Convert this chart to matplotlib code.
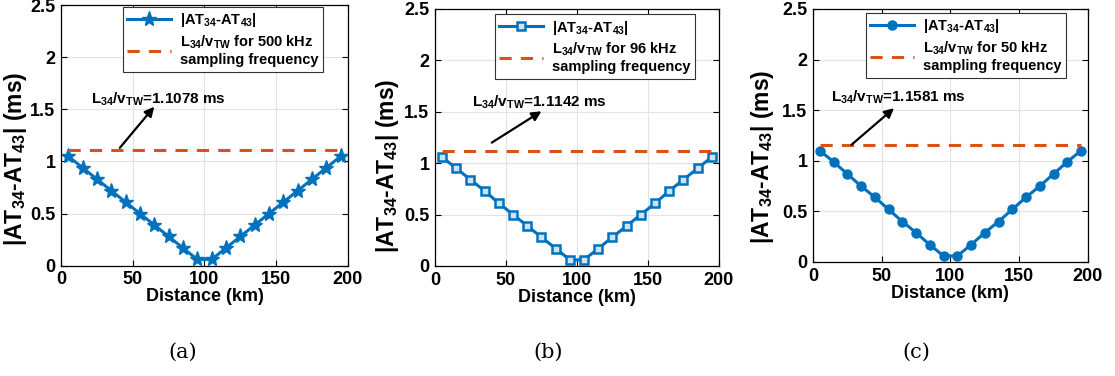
import numpy as np
import matplotlib.pyplot as plt
from matplotlib import font_manager

# fonts: narrow bold sans for axes text, serif for panel captions
names = {f.name for f in font_manager.fontManager.ttflist}
sans = 'Liberation Sans Narrow' if 'Liberation Sans Narrow' in names else 'Liberation Sans'
plt.rcParams['font.family'] = sans
plt.rcParams['font.weight'] = 'bold'
plt.rcParams['axes.labelweight'] = 'bold'
plt.rcParams['mathtext.fontset'] = 'custom'
plt.rcParams['mathtext.rm'] = sans + ':bold'
plt.rcParams['mathtext.bf'] = sans + ':bold'
plt.rcParams['mathtext.default'] = 'bf'

# distance of the fault along the line (km)
distance = [5, 15, 25, 35, 45, 55, 65, 75, 85, 95,
            105, 115, 125, 135, 145, 155, 165, 175, 185, 195]

# |AT34 - AT43| (ms) for each sampling frequency
diff_500k = [1.05, 0.94, 0.83, 0.72, 0.61, 0.50, 0.39, 0.28, 0.17, 0.06,
             0.06, 0.17, 0.28, 0.39, 0.50, 0.61, 0.72, 0.83, 0.94, 1.05]
diff_96k = [1.06, 0.95, 0.84, 0.73, 0.61, 0.50, 0.39, 0.28, 0.17, 0.06,
            0.06, 0.17, 0.28, 0.39, 0.50, 0.61, 0.73, 0.84, 0.95, 1.06]
diff_50k = [1.10, 0.99, 0.87, 0.75, 0.64, 0.52, 0.40, 0.29, 0.17, 0.06,
            0.06, 0.17, 0.29, 0.40, 0.52, 0.64, 0.75, 0.87, 0.99, 1.10]

# L34 / vTW thresholds (ms)
thresholds = [1.1078, 1.1142, 1.1581]
freq_labels = ['500 kHz', '96 kHz', '50 kHz']
captions = ['(a)', '(b)', '(c)']

blue = '#0072BD'
orange = '#D95319'

fig = plt.figure(figsize=(11.15, 3.76), dpi=100)

panels = [
    dict(y=diff_500k, rect=[0.0547, 0.2934, 0.2574, 0.6933],
         mk=dict(marker='*', markersize=11, markerfacecolor=blue),
         leg=(0.216, 0.992), tail=(41, 1.13), head=(65, 1.525),
         txt=(21, 1.6), cap_x=0.164, ylab=(-0.11, 0.41)),
    dict(y=diff_96k, rect=[0.3901, 0.2926, 0.2547, 0.6835],
         mk=dict(marker='s', markersize=6, markerfacecolor='#cfe3f3',
                 markeredgewidth=1.8),
         leg=(0.211, 0.98), tail=(40, 1.2), head=(75, 1.505),
         txt=(26, 1.59), cap_x=0.492, ylab=(-0.12, 0.39)),
    dict(y=diff_50k, rect=[0.7291, 0.3032, 0.2466, 0.6729],
         mk=dict(marker='o', markersize=6.5, markerfacecolor=blue),
         leg=(0.193, 0.984), tail=(28, 1.158), head=(59, 1.52),
         txt=(13, 1.63), cap_x=0.822, ylab=(-0.135, 0.415)),
]

for p, thr, freq, cap in zip(panels, thresholds, freq_labels, captions):
    ax = fig.add_axes(p['rect'])
    ax.plot(distance, p['y'], color=blue, linewidth=2.2,
            markeredgecolor=blue, label=r'|AT$_{34}$-AT$_{43}$|', **p['mk'])
    ax.plot([distance[0], distance[-1]], [thr, thr], color=orange,
            linewidth=2.2, linestyle=(0, (4, 3)),
            label='L$_{34}$/v$_{TW}$ for ' + freq + '\nsampling frequency')

    ax.annotate('', xy=p['head'], xytext=p['tail'],
                arrowprops=dict(arrowstyle='-|>', color='black', lw=1.6,
                                mutation_scale=14, shrinkA=0, shrinkB=0))
    ax.text(p['txt'][0], p['txt'][1], 'L$_{34}$/v$_{TW}$=%.4f ms' % thr,
            fontsize=11, va='center', ha='left')

    ax.set_xlim(0, 200)
    ax.set_ylim(0, 2.5)
    ax.set_xticks([0, 50, 100, 150, 200])
    ax.set_yticks([0, 0.5, 1, 1.5, 2, 2.5])
    ax.set_yticklabels(['0', '0.5', '1', '1.5', '2', '2.5'])
    ax.grid(True, color='#e3e3e3', linewidth=0.8)
    ax.set_axisbelow(True)
    ax.tick_params(direction='in', top=True, right=True, labelsize=13,
                   length=4, width=0.8, pad=4)
    for s in ax.spines.values():
        s.set_linewidth(0.9)
    ax.set_xlabel('Distance (km)', fontsize=13, labelpad=0)
    ax.set_ylabel(r'|AT$_{34}$-AT$_{43}$| (ms)', fontsize=16.5)
    ax.yaxis.set_label_coords(*p['ylab'])

    leg = ax.legend(loc='upper left', bbox_to_anchor=p['leg'], fontsize=10.5,
                    handlelength=3.0, fancybox=False, framealpha=1,
                    edgecolor='#333333', borderpad=0.3, labelspacing=0.3,
                    handletextpad=0.6, borderaxespad=0)
    leg.get_frame().set_linewidth(0.8)

    fig.text(p['cap_x'], 0.063, cap, fontsize=15, family='DejaVu Serif',
             weight='normal', ha='center', va='center')

fig.savefig('out.png', dpi=100)
